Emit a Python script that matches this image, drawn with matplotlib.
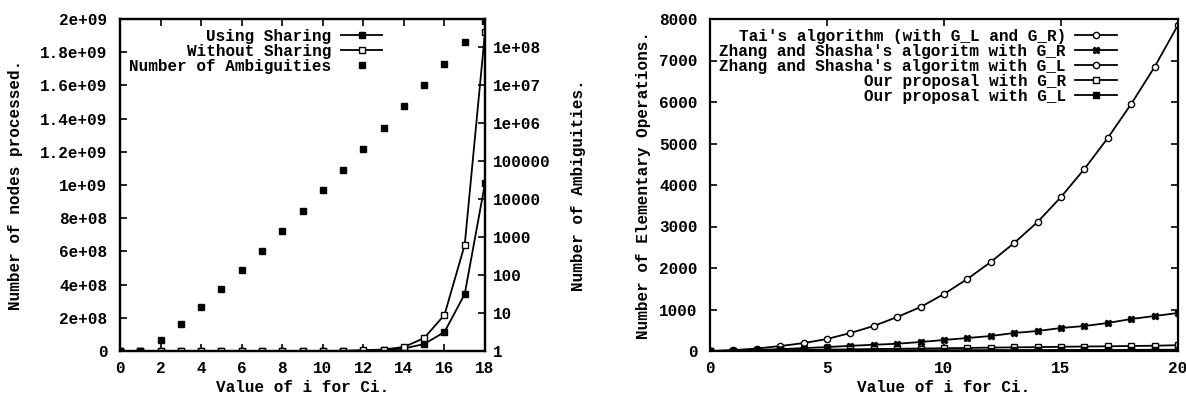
import matplotlib
matplotlib.use("Agg")
import matplotlib.pyplot as plt
from matplotlib.ticker import FixedLocator, FixedFormatter

plt.rcParams['font.family'] = ['Liberation Mono', 'DejaVu Sans Mono']
plt.rcParams['font.size'] = 11.5
plt.rcParams['font.weight'] = 'bold'
plt.rcParams['axes.labelweight'] = 'bold'

# ---- left chart: nodes processed / ambiguities ----
ci = list(range(0, 19))
using_sharing = [5, 15, 40, 120, 350, 1000, 3000, 9000, 27000, 80000, 240000,
                 7.0e5, 2.0e6, 5.5e6, 1.5e7, 4.2e7, 1.14e8, 3.43e8, 1.01e9]
without_sharing = [8, 25, 70, 200, 600, 1800, 5500, 17000, 50000, 150000, 450000,
                   1.4e6, 4.0e6, 9.0e6, 2.4e7, 7.8e7, 2.17e8, 6.4e8, 1.92e9]
ambiguities = [1, 1, 2, 5, 14, 42, 132, 429, 1430, 4862, 16796, 58786, 208012,
               742900, 2674440, 9694845, 35357670, 129644790, 477638700]

left_yticks = [0, 2e8, 4e8, 6e8, 8e8, 1e9, 1.2e9, 1.4e9, 1.6e9, 1.8e9, 2e9]
left_ylabels = ['0', '2e+08', '4e+08', '6e+08', '8e+08', '1e+09', '1.2e+09',
                '1.4e+09', '1.6e+09', '1.8e+09', '2e+09']
y2_ticks = [1, 10, 100, 1000, 1e4, 1e5, 1e6, 1e7, 1e8]
y2_labels = ['1', '10', '100', '1000', '10000', '100000', '1e+06', '1e+07', '1e+08']

# ---- right chart: elementary operations ----
i_vals = list(range(0, 21))
tai = [0, 20, 60, 120, 190, 289, 434, 603, 819, 1060, 1374, 1735, 2145, 2603,
       3109, 3711, 4386, 5133, 5952, 6845, 7857]
zhang_gr = [0, 10, 25, 45, 70, 95, 125, 150, 175, 217, 265, 313, 361, 434,
            482, 554, 602, 675, 771, 843, 916]
zhang_gl = [0, 2, 4, 5, 7, 8, 10, 11, 13, 14, 16, 17, 19, 20, 22, 23, 25, 26, 28, 29, 31]
our_gr = [0, 6, 13, 20, 26, 33, 40, 47, 53, 60, 66, 74, 82, 88, 93, 102, 108,
          113, 121, 127, 140]
our_gl = [0, 1, 2, 3, 4, 5, 6, 7, 8, 9, 10, 11, 12, 13, 14, 15, 16, 17, 18, 19, 20]

fig = plt.figure(figsize=(11.86, 3.99), dpi=100)
W, H = 1186, 399

def style(ax):
    for s in ax.spines.values():
        s.set_linewidth(1.6)
    ax.tick_params(direction='in', length=5, width=1.2)
    ax.tick_params(axis='y', pad=9)
    ax.tick_params(axis='x', pad=7)

leg_kw = dict(loc='upper right', frameon=False, markerfirst=False,
              handlelength=2.6, handletextpad=0.6, labelspacing=0.0,
              borderaxespad=0.3, borderpad=0.3)

# left
ax = fig.add_axes([120 / W, 48 / H, 365 / W, 332 / H])
ax2 = ax.twinx()
style(ax)
style(ax2)
ax2.tick_params(axis='y', pad=6)
lw = 1.3
h1, = ax.plot(ci, using_sharing, color='black', lw=lw, marker='s', ms=4,
              label='Using Sharing')
h2, = ax.plot(ci, without_sharing, color='black', lw=lw, marker='s', ms=4.5,
              mfc='white', mew=1.0, label='Without Sharing')
h3, = ax2.plot(ci, ambiguities, color='black', ls='none', marker='s', ms=4.5,
               label='Number of Ambiguities')
ax.set_xlim(0, 18)
ax.set_ylim(0, 2e9)
ax.xaxis.set_major_locator(FixedLocator(list(range(0, 19, 2))))
ax.yaxis.set_major_locator(FixedLocator(left_yticks))
ax.yaxis.set_major_formatter(FixedFormatter(left_ylabels))
ax.tick_params(top=True, axis='x')
ax2.set_yscale('log')
ax2.set_ylim(1, 5.3e8)
ax2.yaxis.set_major_locator(FixedLocator(y2_ticks))
ax2.yaxis.set_major_formatter(FixedFormatter(y2_labels))
ax2.yaxis.set_minor_locator(FixedLocator([]))
ax.set_xlabel('Value of i for Ci.', labelpad=3)
ax.set_ylabel('Number of nodes processed.', labelpad=12)
ax2.set_ylabel('Number of Ambiguities.', labelpad=14)
ax2.legend(handles=[h1, h2, h3], bbox_to_anchor=(0.745, 1.0), **leg_kw)

# right
bx = fig.add_axes([710 / W, 48 / H, 468 / W, 332 / H])
style(bx)
g1, = bx.plot(i_vals, tai, color='black', lw=lw, marker='o', ms=4.5, mfc='white',
              mew=1.0, label="Tai's algorithm (with G_L and G_R)")
g2, = bx.plot(i_vals, zhang_gr, color='black', lw=lw, marker='X', ms=5,
              label="Zhang and Shasha's algoritm with G_R")
g3, = bx.plot(i_vals, zhang_gl, color='black', lw=lw, marker='o', ms=4.5,
              mfc='white', mew=1.0, label="Zhang and Shasha's algoritm with G_L")
g4, = bx.plot(i_vals, our_gr, color='black', lw=lw, marker='s', ms=4.5,
              mfc='white', mew=1.0, label='Our proposal with G_R')
g5, = bx.plot(i_vals, our_gl, color='black', lw=lw, marker='s', ms=4,
              label='Our proposal with G_L')
bx.set_xlim(0, 20)
bx.set_ylim(0, 8000)
bx.xaxis.set_major_locator(FixedLocator([0, 5, 10, 15, 20]))
bx.yaxis.set_major_locator(FixedLocator(list(range(0, 8001, 1000))))
bx.tick_params(top=True, right=True)
bx.set_xlabel('Value of i for Ci.', labelpad=3)
bx.set_ylabel('Number of Elementary Operations.', labelpad=6)
bx.legend(handles=[g1, g2, g3, g4, g5], bbox_to_anchor=(0.89, 1.0), **leg_kw)

fig.savefig('out.png', dpi=100)
